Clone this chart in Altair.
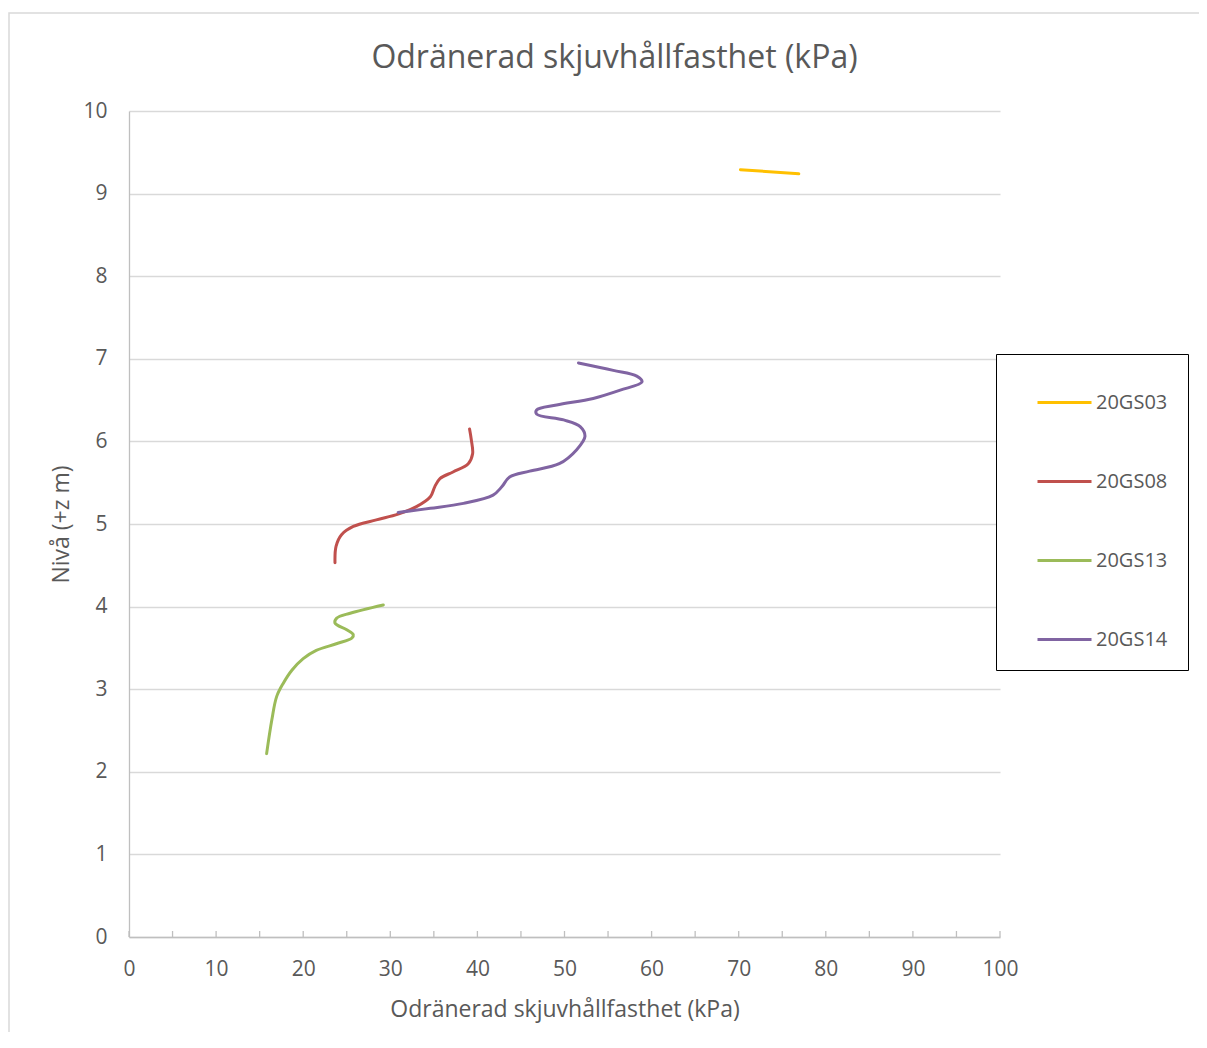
import altair as alt
import pandas as pd

series_names = ["20GS03", "20GS08", "20GS13", "20GS14"]
series_colors = ["#FFC000", "#C0504D", "#9BBB59", "#8064A2"]

gs03_x = [70.2, 76.9]
gs03_z = [9.29, 9.24]

gs08_x = [23.65, 23.77, 24.4, 25.75, 28.4, 30.9, 33.0, 34.6, 35.1, 35.7, 37.2, 38.95, 39.45, 39.3, 39.1]
gs08_z = [4.53, 4.73, 4.87, 4.97, 5.05, 5.12, 5.21, 5.33, 5.45, 5.55, 5.63, 5.73, 5.85, 6.02, 6.15]

gs13_x = [15.8, 16.4, 16.95, 17.7, 18.7, 20.0, 21.5, 23.8, 25.6, 25.75, 25.0, 23.65, 23.85, 25.4, 29.2]
gs13_z = [2.22, 2.63, 2.91, 3.07, 3.23, 3.37, 3.47, 3.55, 3.62, 3.66, 3.72, 3.80, 3.86, 3.92, 4.02]

gs14_x = [30.9, 34.6, 38.4, 41.8, 42.8, 43.7, 46.0, 49.4, 51.4, 52.35, 51.8, 49.9, 46.8, 46.8, 49.1,
          53.3, 56.4, 58.9, 58.3, 55.6, 51.6]
gs14_z = [5.14, 5.19, 5.25, 5.35, 5.45, 5.57, 5.64, 5.73, 5.90, 6.06, 6.18, 6.26, 6.33, 6.38, 6.44,
          6.52, 6.62, 6.72, 6.79, 6.86, 6.95]

x_ticks = [0, 5, 10, 15, 20, 25, 30, 35, 40, 45, 50, 55, 60, 65, 70, 75, 80, 85, 90, 95, 100]
x_labels = [0, 10, 20, 30, 40, 50, 60, 70, 80, 90, 100]
y_ticks = [0, 1, 2, 3, 4, 5, 6, 7, 8, 9, 10]

rows = []
for name, xs, zs in zip(series_names, [gs03_x, gs08_x, gs13_x, gs14_x], [gs03_z, gs08_z, gs13_z, gs14_z]):
    for i, (xv, zv) in enumerate(zip(xs, zs)):
        rows.append({"serie": name, "i": i, "x": xv, "z": zv})
df = pd.DataFrame(rows)
ticks_df = pd.DataFrame({"t": x_ticks})

FONT = "Open Sans"
TXT = "#595959"
W, H = 871, 826

xscale = alt.Scale(domain=[0, 100], nice=False, zero=False)
yscale = alt.Scale(domain=[0, 10], nice=False, zero=False)

border = alt.Chart(pd.DataFrame({"a": [0]})).mark_rect(
    fill=None, stroke="#D9D9D9", strokeWidth=1.5
).encode(x=alt.value(-120), x2=alt.value(1090), y=alt.value(-98), y2=alt.value(960))

lines = alt.Chart(df).mark_line(strokeWidth=3, interpolate="catmull-rom", strokeCap="round").encode(
    x=alt.X("x:Q", scale=xscale,
            axis=alt.Axis(values=x_labels, title="Odränerad skjuvhållfasthet (kPa)", grid=False,
                          ticks=False, domainColor="#BFBFBF", domainWidth=1.3, labelFlush=False,
                          labelPadding=21, titlePadding=19)),
    y=alt.Y("z:Q", scale=yscale,
            axis=alt.Axis(values=y_ticks, title="Nivå (+z m)", grid=True, gridColor="#D9D9D9",
                          gridWidth=1.3, ticks=False, domainColor="#BFBFBF", domainWidth=1.3,
                          labelFlush=False, labelPadding=22, titlePadding=9)),
    color=alt.Color("serie:N", scale=alt.Scale(domain=series_names, range=series_colors),
                    legend=alt.Legend(title=None, orient="none", legendX=867, legendY=243,
                                      symbolType="stroke", symbolSize=2916, symbolStrokeWidth=3,
                                      strokeColor="black", fillColor="white", padding=20,
                                      symbolOffset=20, labelOffset=3, rowPadding=40,
                                      labelFontSize=20, labelFont=FONT, labelColor=TXT)),
    detail="serie:N",
    order="i:Q",
)

tickmarks = alt.Chart(ticks_df).mark_rule(color="#BFBFBF", strokeWidth=1.3).encode(
    x=alt.X("t:Q", scale=xscale), y=alt.value(H), y2=alt.value(H - 6)
)

chart = alt.layer(border, tickmarks, lines).properties(
    width=W, height=H,
    background="white",
    title=alt.Title("Odränerad skjuvhållfasthet (kPa)", fontSize=32, font=FONT, color=TXT,
                    fontWeight="normal", anchor="middle", dx=50, offset=-63),
    autosize=alt.AutoSizeParams(type="none"),
    padding={"left": 121, "top": 103, "right": 199, "bottom": 95},
).configure_view(stroke=None).configure_axis(
    labelFont=FONT, titleFont=FONT, labelColor=TXT, titleColor=TXT, labelFontSize=21,
    titleFontSize=23, titleFontWeight="normal"
)

chart.save("out.html", embed_options={"renderer": "svg", "actions": False})
